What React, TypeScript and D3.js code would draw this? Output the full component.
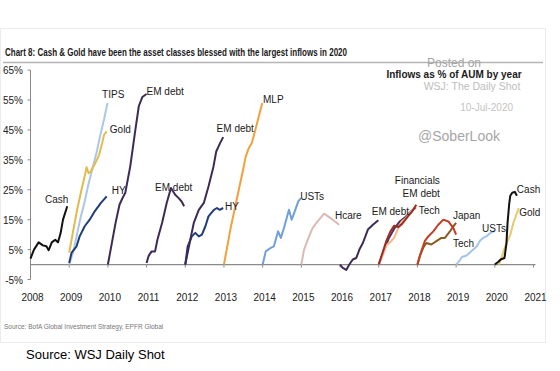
import React from 'react';
import * as d3 from 'd3';

type Pt = [number, number];

// year ticks and y ticks
const years = d3.range(2008, 2022);
const yTicks = [-5, 5, 15, 25, 35, 45, 55, 65];

// each series: [fraction of year since start, inflow % of AUM]
const cash2008: Pt[] = [[0, 2], [0.09, 5], [0.21, 7.4], [0.32, 6.4], [0.41, 6.1], [0.47, 4.8], [0.55, 7.4], [0.64, 8.3], [0.71, 7.4], [0.78, 10.6], [0.84, 15], [0.95, 19.5]];
const tips2009: Pt[] = [[0, 0], [0.1, 4], [0.2, 10], [0.3, 16], [0.4, 21], [0.5, 27], [0.6, 32], [0.7, 37], [0.8, 43], [0.9, 48.5], [0.99, 54]];
const gold2009: Pt[] = [[0, 4], [0.1, 11], [0.2, 18], [0.3, 24], [0.4, 29.5], [0.45, 32.5], [0.5, 30.5], [0.55, 31], [0.66, 33.5], [0.77, 36.5], [0.85, 40.5], [0.9, 43.3], [0.97, 44.5]];
const hy2009: Pt[] = [[0, 0.5], [0.06, 3.9], [0.19, 6.1], [0.27, 9.4], [0.4, 12.8], [0.53, 15], [0.66, 17.8], [0.82, 20.6], [0.97, 22.8]];
const emDebt2010: Pt[] = [[0, 0], [0.1, 7], [0.2, 14], [0.3, 20], [0.37, 22], [0.45, 24], [0.58, 33], [0.71, 45], [0.8, 53], [0.89, 56], [1.0, 57]];
const emDebt2011: Pt[] = [[0, 0.5], [0.05, 2.8], [0.13, 4.4], [0.22, 4.4], [0.28, 8.3], [0.4, 13.9], [0.52, 20.6], [0.63, 25.6], [0.74, 23.3], [0.83, 22.2], [0.91, 21], [0.97, 19.5]];
const hy2012: Pt[] = [[0, 0], [0.06, 6], [0.17, 9.4], [0.26, 10.6], [0.35, 9.4], [0.43, 10], [0.52, 12.8], [0.6, 16.1], [0.74, 18.3], [0.82, 18.9], [0.89, 18.3], [0.98, 18.9]];
const emDebt2012: Pt[] = [[0, 0], [0.13, 8.3], [0.22, 13.9], [0.35, 18.3], [0.48, 20.6], [0.6, 26.1], [0.73, 32.8], [0.8, 37.8], [0.9, 40.6], [0.98, 42.6]];
const mlp2013: Pt[] = [[0, 0], [0.17, 12], [0.35, 23], [0.5, 32], [0.56, 36], [0.64, 38.9], [0.72, 40.6], [0.82, 45.5], [0.99, 54]];
const usts2014: Pt[] = [[0, 0], [0.08, 4.4], [0.21, 5.6], [0.29, 6.1], [0.4, 11.1], [0.47, 8.9], [0.55, 12.2], [0.68, 18.3], [0.75, 15], [0.83, 17.8], [0.92, 21.1], [0.99, 22.2]];
const hcare2015: Pt[] = [[0, 0], [0.07, 5], [0.2, 9.4], [0.29, 12.2], [0.42, 14.4], [0.59, 17], [0.81, 15], [0.98, 13.3]];
const emDebt2016: Pt[] = [[0, 0], [0.07, -1.1], [0.16, -1.8], [0.24, 0], [0.33, 1.7], [0.42, 2.2], [0.5, 5], [0.59, 7.2], [0.72, 11.7], [0.85, 13.3], [0.99, 14.8]];
const emDebt2017: Pt[] = [[0, 0], [0.1, 3.5], [0.25, 8.5], [0.4, 12], [0.55, 14.5], [0.7, 16], [0.85, 18], [0.96, 19]];
const tech2017: Pt[] = [[0, 0], [0.1, 3], [0.2, 6.5], [0.3, 7.5], [0.4, 9], [0.5, 12], [0.6, 14.5], [0.7, 15.5], [0.85, 18], [0.97, 19.5]];
const financials2017: Pt[] = [[0, 0], [0.1, 4], [0.2, 8], [0.3, 11], [0.4, 13], [0.5, 12.5], [0.6, 13.5], [0.75, 16], [0.85, 17.5], [0.97, 20]];
const japan2018: Pt[] = [[0, 0], [0.06, 2.8], [0.15, 5.6], [0.23, 7.2], [0.36, 6.7], [0.49, 7.8], [0.62, 8.9], [0.71, 8.9], [0.84, 11.1], [0.93, 12.8], [1.0, 13.9]];
const tech2018: Pt[] = [[0, 0], [0.1, 4.4], [0.19, 7.8], [0.28, 9.4], [0.41, 11.1], [0.54, 13.3], [0.67, 15], [0.8, 14.4], [0.93, 12.2], [1.0, 10]];
const usts2019: Pt[] = [[0, 0], [0.1, 1.5], [0.15, 2.5], [0.27, 3], [0.4, 4.5], [0.53, 6], [0.62, 8], [0.71, 9], [0.79, 9.5], [0.88, 10.5], [0.99, 11.2]];
const cash2020: Pt[] = [[0, 0], [0.1, 1], [0.15, 1.7], [0.25, 2.2], [0.3, 7], [0.33, 14], [0.37, 20], [0.4, 23], [0.45, 24], [0.52, 24.3], [0.57, 23]];
const gold2020: Pt[] = [[0.1, 0], [0.14, 1.1], [0.27, 6.1], [0.4, 10], [0.48, 13.9], [0.57, 17.2], [0.62, 18.9]];

const series = [
  { start: 2008, values: cash2008, color: '#111111' },
  { start: 2009, values: tips2009, color: '#aac7e8' },
  { start: 2009, values: gold2009, color: '#e2bb4c' },
  { start: 2009, values: hy2009, color: '#1f3d78' },
  { start: 2010, values: emDebt2010, color: '#3e2a57' },
  { start: 2011, values: emDebt2011, color: '#3e2a57' },
  { start: 2012, values: hy2012, color: '#1f3d78' },
  { start: 2012, values: emDebt2012, color: '#3e2a57' },
  { start: 2013, values: mlp2013, color: '#f3a03a' },
  { start: 2014, values: usts2014, color: '#6f9fd9' },
  { start: 2015, values: hcare2015, color: '#dbb9b5' },
  { start: 2016, values: emDebt2016, color: '#3e2a57' },
  { start: 2017, values: emDebt2017, color: '#4a3066' },
  { start: 2017, values: tech2017, color: '#f2b982' },
  { start: 2017, values: financials2017, color: '#9e2c24' },
  { start: 2018, values: japan2018, color: '#8c5a1e' },
  { start: 2018, values: tech2018, color: '#c43c24' },
  { start: 2019, values: usts2019, color: '#a6c4ea' },
  { start: 2020, values: gold2020, color: '#e9c870' },
  { start: 2020, values: cash2020, color: '#111111' },
];

// label text, anchor in [year, %]
const labelText = ['Cash', 'TIPS', 'Gold', 'HY', 'EM debt', 'EM debt', 'EM debt', 'HY', 'MLP', 'USTs', 'Hcare', 'EM debt', 'Financials', 'EM debt', 'Tech', 'Japan', 'Tech', 'USTs', 'Cash', 'Gold'];
const labelAt: Pt[] = [[2008.375, 20.6], [2009.85, 55.7], [2010.05, 44], [2010.1, 23.6], [2011.0, 56.7], [2011.22, 24.6], [2012.81, 44.3], [2013.03, 18.2], [2014.01, 54], [2014.97, 21.6], [2015.87, 15.2], [2016.82, 16.6], [2018.58, 26.9], [2018.58, 22.6], [2018.58, 16.9], [2018.92, 15.2], [2018.92, 5.85], [2019.67, 10.9], [2020.57, 23.9], [2020.63, 16.2]];
const labelEnd = [12, 13, 14];

const W = 560;
const H = 371;
const narrow = "'Liberation Sans Narrow', 'Arial Narrow', sans-serif";

const x = d3.scaleLinear().domain([2008, 2021]).range([30.5, 533.5]);
const y = d3.scaleLinear().domain([-5, 65]).range([279.5, 70.1]);

export default function App() {
  return (
    <svg width={W} height={H} style={{ position: 'absolute', left: 0, top: 0, background: '#fff' }}>
      <rect x={0.5} y={28.5} width={545} height={314} fill="#fff" stroke="#ececec" />
      <text x={5} y={56} fontFamily={narrow} fontWeight="bold" fontSize={10.5} fill="#1a1a1a" textLength={342} lengthAdjust="spacingAndGlyphs">
        Chart 8: Cash &amp; Gold have been the asset classes blessed with the largest inflows in 2020
      </text>
      <line x1={3} x2={543} y1={62.5} y2={62.5} stroke="#b5b5b5" strokeWidth={1.5} />

      {/* watermark */}
      <g fontFamily="'Liberation Sans', Arial, sans-serif" fill="#a6a6a6" textAnchor="middle">
        <text x={454} y={67} fontSize={12}>Posted on</text>
        <text x={472} y={90} fontSize={10.5} fill="#bdbdbd">WSJ: The Daily Shot</text>
        <text x={513} y={111} fontSize={10} fill="#c4c4c4" textAnchor="end">10-Jul-2020</text>
        <text x={459} y={141} fontSize={14}>@SoberLook</text>
      </g>
      <text x={454} y={78} fontFamily={narrow} fontWeight="bold" fontSize={10} fill="#1a1a1a" textAnchor="middle">Inflows as % of AUM by year</text>

      {/* axes */}
      <line x1={x(2008)} x2={x(2008)} y1={y(65)} y2={y(-5)} stroke="#8a8a8a" />
      {yTicks.map(t => (
        <g key={t}>
          <line x1={x(2008) - 3} x2={x(2008)} y1={y(t)} y2={y(t)} stroke="#8a8a8a" />
          <text x={23} y={y(t) + 4} textAnchor="end" fontFamily={narrow} fontSize={10} fill="#222">{t}%</text>
        </g>
      ))}
      <line x1={x(2008)} x2={x(2021) + 2} y1={y(0)} y2={y(0)} stroke="#8a8a8a" strokeWidth={1.2} />
      {years.map(yr => (
        <g key={yr}>
          <line x1={x(yr)} x2={x(yr)} y1={y(0)} y2={y(0) + 3} stroke="#8a8a8a" />
          <text x={x(yr) + 2} y={301} textAnchor="middle" fontFamily={narrow} fontSize={10} fill="#222">{yr}</text>
        </g>
      ))}

      {/* series */}
      {series.map((s, i) => {
        const line = d3.line<Pt>().x(d => x(s.start + d[0])).y(d => y(d[1]));
        return <path key={i} d={line(s.values) || ''} fill="none" stroke={s.color} strokeWidth={2} strokeLinejoin="round" />;
      })}

      {/* labels */}
      {labelText.map((t, i) => (
        <text key={i} x={x(labelAt[i][0])} y={y(labelAt[i][1])} textAnchor={labelEnd.includes(i) ? 'end' : 'start'}
          fontFamily={narrow} fontSize={10} fill="#1a1a1a">{t}</text>
      ))}

      <text x={4} y={329} fontFamily={narrow} fontSize={6.5} fill="#777">Source: BofA Global Investment Strategy, EPFR Global</text>
      <text x={26} y={359} fontFamily="'Liberation Sans', Arial, sans-serif" fontSize={13} fill="#000">Source: WSJ Daily Shot</text>
    </svg>
  );
}
